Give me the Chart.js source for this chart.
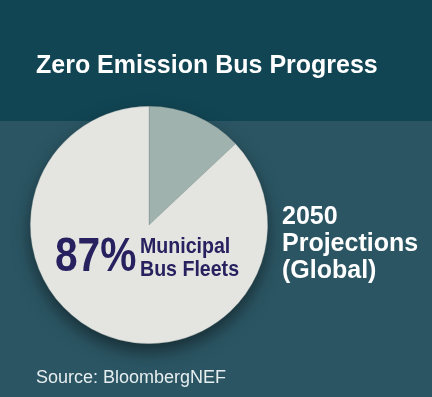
<!DOCTYPE html>
<html>
<head>
<meta charset="utf-8">
<script src="https://cdn.jsdelivr.net/npm/chart.js@4"></script>
<style>
  html, body { margin: 0; padding: 0; }
  body { width: 432px; height: 397px; position: relative; overflow: hidden; background: #2b5563; font-family: "Liberation Sans", Arial, sans-serif; }
  #header { position: absolute; left: 0; top: 0; width: 432px; height: 121px; background: #114553; }
  #chartWrap { position: absolute; left: 0; top: 0; width: 432px; height: 397px; }
  .txt { position: absolute; white-space: nowrap; transform-origin: 0 0; }
  #title { left: 36px; top: 50px; color: #fff; font-weight: bold; font-size: 25px; }
  #big { left: 55px; top: 226px; color: #27215f; font-weight: bold; font-size: 49px; transform: scaleX(0.83); }
  #small { left: 140px; top: 234px; color: #27215f; font-weight: bold; font-size: 22px; line-height: 23px; transform: scaleX(0.89); }
  #side { left: 282px; top: 202px; color: #fff; font-weight: bold; font-size: 25px; line-height: 27px; }
  #source { left: 36px; top: 367px; color: #e6eef0; font-size: 18px; }
</style>
</head>
<body>
<div id="header"></div>
<div id="chartWrap"><canvas id="pieChart" width="432" height="397"></canvas></div>
<div class="txt" id="title">Zero Emission Bus Progress</div>
<div class="txt" id="big">87%</div>
<div class="txt" id="small">Municipal<br>Bus Fleets</div>
<div class="txt" id="side">2050<br>Projections<br>(Global)</div>
<div class="txt" id="source">Source: BloombergNEF</div>
<script>
const categories = ["Other", "Municipal Bus Fleets"];
const shares = [13, 87];
const sliceColors = ["#9fb2ad", "#e4e5e1"];

// soft shadow under the pie
const pieShadow = {
  id: "pieShadow",
  beforeDatasetsDraw(chart) {
    const arc = chart.getDatasetMeta(0).data[0];
    if (!arc) return;
    const ctx = chart.ctx;
    ctx.save();
    ctx.shadowColor = "rgba(0,0,0,0.5)";
    ctx.shadowBlur = 18;
    ctx.shadowOffsetY = 8;
    ctx.fillStyle = "#e4e5e1";
    ctx.beginPath();
    ctx.arc(arc.x, arc.y, arc.outerRadius - 1, 0, Math.PI * 2);
    ctx.fill();
    ctx.restore();
  }
};

const ctx = document.getElementById("pieChart").getContext("2d");
new Chart(ctx, {
  type: "pie",
  data: {
    labels: categories,
    datasets: [{
      data: shares,
      backgroundColor: sliceColors,
      borderColor: "rgba(110,130,126,0.5)",
      borderWidth: 0.6
    }]
  },
  options: {
    responsive: false,
    animation: false,
    layout: { padding: { left: 30, top: 106, right: 164, bottom: 53 } },
    plugins: { legend: { display: false }, tooltip: { enabled: false } }
  },
  plugins: [pieShadow]
});
</script>
</body>
</html>
